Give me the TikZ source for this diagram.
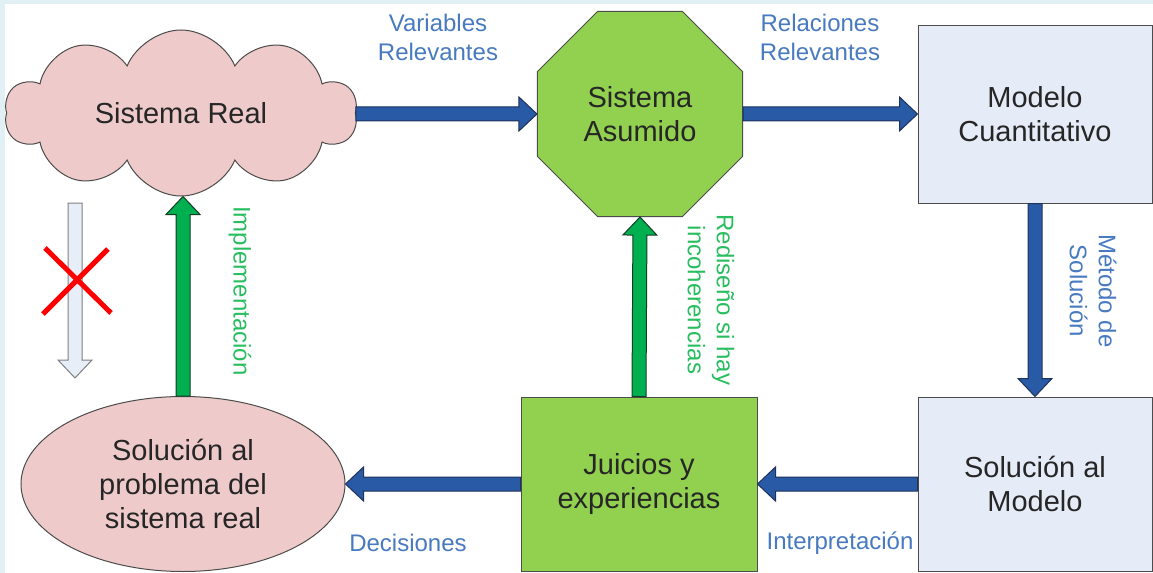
\documentclass[tikz,border=0pt]{standalone}
\usepackage{fontspec}
\setmainfont{Liberation Sans}
\usetikzlibrary{calc,shapes.geometric,shapes.symbols}

\definecolor{framecyan}{RGB}{224,240,244}
\definecolor{cloudpink}{RGB}{238,203,202}
\definecolor{boxgreen}{RGB}{146,208,80}
\definecolor{boxblue}{RGB}{230,236,247}
\definecolor{arrowblue}{RGB}{40,90,165}
\definecolor{arrowblueline}{RGB}{30,50,90}
\definecolor{arrowgreen}{RGB}{0,176,80}
\definecolor{arrowgreenline}{RGB}{20,60,35}
\definecolor{labelblue}{RGB}{72,122,192}
\definecolor{labelgreen}{RGB}{40,190,95}
\definecolor{greyfill}{RGB}{232,238,248}

% block arrow from #2 to #3, drawn with style #1
\newcommand{\blockarrow}[3]{%
  \draw[#1] let \p1=($(#3)-(#2)$), \n1={atan2(\y1,\x1)}, \n2={veclen(\x1,\y1)-9pt} in
    ($(#2)+(\n1+90:3.5pt)$) -- ++(\n1:\n2) -- ++(\n1+90:5pt) -- (#3)
    -- ($(#2)+(\n1-90:8.5pt)+(\n1:\n2)$) -- ++(\n1+90:5pt)
    -- ($(#2)+(\n1-90:3.5pt)$) -- cycle;
}

\tikzset{
  shapebase/.style={draw=black!70, line width=0.5pt, inner sep=0pt, align=center,
    text=black!85, font=\fontsize{14.5}{17}\selectfont},
  bluebox/.style={shapebase, rectangle, fill=boxblue},
  greenbox/.style={shapebase, rectangle, fill=boxgreen},
  lbl/.style={align=center, font=\fontsize{12}{14.5}\selectfont},
  bluelbl/.style={lbl, text=labelblue},
  greenlbl/.style={lbl, text=labelgreen},
  bluearrow/.style={draw=arrowblueline, fill=arrowblue, line width=0.5pt},
  greenarrow/.style={draw=arrowgreenline, fill=arrowgreen, line width=0.5pt},
  greyarrow/.style={draw=black!50, fill=greyfill, line width=0.5pt},
}

\begin{document}
\begin{tikzpicture}[x=0.5pt,y=-0.5pt]
    \fill[framecyan] (0,0) rectangle (1153,573);
    \fill[white] (5,4) rectangle (1153,573);

    % nodes
    \node[shapebase, cloud, cloud puffs=10, cloud puff arc=135, aspect=2.1, fill=cloudpink,
      minimum width=176pt, minimum height=83pt] (real) at (181,113) {Sistema Real};
    \node[shapebase, regular polygon, regular polygon sides=8, fill=boxgreen,
      minimum size=111pt] (asum) at (640,114) {Sistema\\Asumido};
    \node[bluebox, minimum width=117pt, minimum height=89pt] (cuant) at (1035,114) {Modelo\\Cuantitativo};
    \node[bluebox, minimum width=117pt, minimum height=87pt] (solm) at (1035,484) {Solución al\\Modelo};
    \node[greenbox, minimum width=118pt, minimum height=87pt] (juic) at (639,484) {Juicios y\\experiencias};
    \node[shapebase, ellipse, fill=cloudpink, minimum width=162pt, minimum height=87.5pt]
      (sol) at (183,484) {Solución al\\problema del\\sistema real};

    % connectors
    \coordinate (realout) at (real.east |- asum.west);
    \coordinate (realin) at (sol.north |- real.south);
    \blockarrow{bluearrow}{realout}{asum.west}
    \blockarrow{bluearrow}{asum.east}{cuant.west}
    \blockarrow{bluearrow}{cuant.south}{solm.north}
    \blockarrow{bluearrow}{solm.west}{juic.east}
    \blockarrow{bluearrow}{juic.west}{sol.east}
    \blockarrow{greenarrow}{juic.north}{asum.south}
    \blockarrow{greenarrow}{sol.north}{realin}

    % crossed out path
    \coordinate (greytop) at (75,203);
    \coordinate (greybot) at (75,378);
    \blockarrow{greyarrow}{greytop}{greybot}
    \coordinate (xa) at (45,248);
    \coordinate (xb) at (111,313);
    \coordinate (xc) at (108,249);
    \coordinate (xd) at (43,314);
    \draw[red, line width=2.5pt] (xa) -- (xb) (xc) -- (xd);

    % labels
    \node[bluelbl] (lvar) at (438,37) {Variables\\Relevantes};
    \node[bluelbl] (lrel) at (820,37) {Relaciones\\Relevantes};
    \node[bluelbl, rotate=-90] (lmet) at (1093,291) {Método de\\Solución};
    \node[greenlbl, rotate=-90] (lred) at (711,300) {Rediseño si hay\\incoherencias};
    \node[greenlbl, rotate=-90] (limp) at (240,291) {Implementación};
    \node[bluelbl] (ldec) at (408,543) {Decisiones};
    \node[bluelbl] (lint) at (840,543) {Interpretación};
\end{tikzpicture}
\end{document}
